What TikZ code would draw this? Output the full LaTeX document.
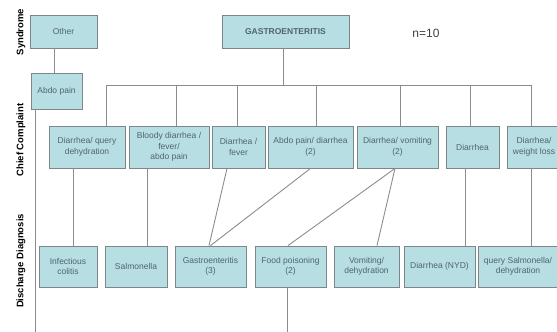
\documentclass[tikz,border=0pt]{standalone}
\usepackage{fontspec}
\setmainfont{Liberation Sans}
\usepackage{tikz}
\usetikzlibrary{positioning,calc}
\usepackage{xcolor}
\definecolor{boxfill}{RGB}{183,222,226}
\definecolor{boxline}{RGB}{125,135,138}
\definecolor{boxtext}{RGB}{80,100,110}
\definecolor{linkgray}{RGB}{140,140,140}

\begin{document}
\begin{tikzpicture}[x=1pt,y=-1pt,
  box/.style={rectangle,draw=boxline,fill=boxfill,text=boxtext,line width=0.8pt,
    font=\fontsize{8.5}{10.5}\selectfont,align=center,inner sep=1pt},
  link/.style={draw=linkgray,line width=0.9pt},
  level/.style={rotate=90,font=\bfseries\fontsize{9.5}{11}\selectfont}]
\useasboundingbox (0,0) rectangle (557,332);
\clip (0,0) rectangle (557,332);

% level labels
\node[level] (lsyn) at (21,32) {Syndrome};
\node[level] (lcc) at (21,140) {Chief Complaint};
\node[level] (ldd) at (21,261) {Discharge Diagnosis};

% syndrome row
\node[box,minimum width=67,minimum height=33] (other) at (63.5,31.5) {Other};
\node[box,minimum width=127,minimum height=33,font=\bfseries\fontsize{8.5}{10.5}\selectfont] (gastro) at (285.5,31.5) {GASTROENTERITIS};
\node[text=black!75,font=\fontsize{12}{14}\selectfont] (count) at (426,33) {n=10};
\node[box,minimum width=51,minimum height=36] (abdo) at (56.5,91) {Abdo pain};

% chief complaint row
\node[box,minimum width=76,minimum height=42] (cc1) at (87,147) {Diarrhea/ query\\dehydration};
\node[box,minimum width=80,minimum height=42] (cc2) at (169,147) {Bloody diarrhea /\\fever/\\abdo pain};
\node[box,minimum width=53,minimum height=42] (cc3) at (238.5,147) {Diarrhea /\\fever};
\node[box,minimum width=85,minimum height=42] (cc4) at (310.5,147) {Abdo pain/ diarrhea\\(2)};
\node[box,minimum width=81,minimum height=42] (cc5) at (397.5,147) {Diarrhea/ vomiting\\(2)};
\node[box,minimum width=53,minimum height=42] (cc6) at (472.5,147) {Diarrhea};
\node[box,minimum width=54,minimum height=42] (cc7) at (534,147) {Diarrhea/\\weight loss};

% discharge diagnosis row
\node[box,minimum width=58,minimum height=41] (dd1) at (68,266.5) {Infectious\\colitis};
\node[box,minimum width=62,minimum height=41] (dd2) at (136,266.5) {Salmonella};
\node[box,minimum width=71,minimum height=41] (dd3) at (210.5,266.5) {Gastroenteritis\\(3)};
\node[box,minimum width=71,minimum height=41] (dd4) at (290.5,266.5) {Food poisoning\\(2)};
\node[box,minimum width=65,minimum height=41] (dd5) at (366.5,266.5) {Vomiting/\\dehydration};
\node[box,minimum width=71,minimum height=41] (dd6) at (439.5,266.5) {Diarrhea (NYD)};
\node[box,minimum width=80,minimum height=41] (dd7) at (518,266.5) {query Salmonella/\\dehydration};

% tree above the complaints
\coordinate (bus) at ($(gastro.south)+(-2.5,37)$);
\coordinate (bottom) at (0,332);
\draw[link] (other.south -| abdo.north) ++(-2.5,0) -- ([xshift=-2.5pt]abdo.north);
\draw[link] ([xshift=-21.5pt]abdo.south) -- ([xshift=-21.5pt]abdo.south |- bottom);
\draw[link] (gastro.south -| bus) -- (bus);
\draw[link] ([xshift=19pt]cc1.north |- bus) -- ([xshift=-3pt]cc7.north |- bus);
\foreach \n/\dx in {cc1/19,cc2/7,cc3/-1.5,cc4/5.5,cc5/2.5,cc6/-2.5,cc7/-3}
  \draw[link] ([xshift=\dx pt]\n.north |- bus) -- ([xshift=\dx pt]\n.north);

% complaints to diagnoses
\draw[link] ([xshift=-14pt]cc1.south) -- ([xshift=-14pt]cc1.south |- dd1.north);
\draw[link] ([xshift=-22pt]cc2.south) -- ([xshift=-22pt]cc2.south |- dd2.north);
\draw[link] ([xshift=-11.5pt]cc3.south) -- ([xshift=-1.5pt]dd3.north);
\draw[link] (cc4.south) -- (dd3.north);
\draw[link] ([xshift=-2.5pt]cc5.south) -- ([xshift=-2.5pt]dd4.north);
\draw[link] ([xshift=-2.5pt]cc5.south) -- ([xshift=10.5pt]dd5.north);
\draw[link] ([xshift=-7.5pt]cc6.south) -- ([xshift=-7.5pt]cc6.south |- dd6.north);
\draw[link] ([xshift=-3pt]cc7.south) -- ([xshift=-3pt]cc7.south |- dd7.north);
\draw[link] ([xshift=-3.5pt]dd4.south) -- ([xshift=-3.5pt]dd4.south |- bottom);
\end{tikzpicture}
\end{document}
